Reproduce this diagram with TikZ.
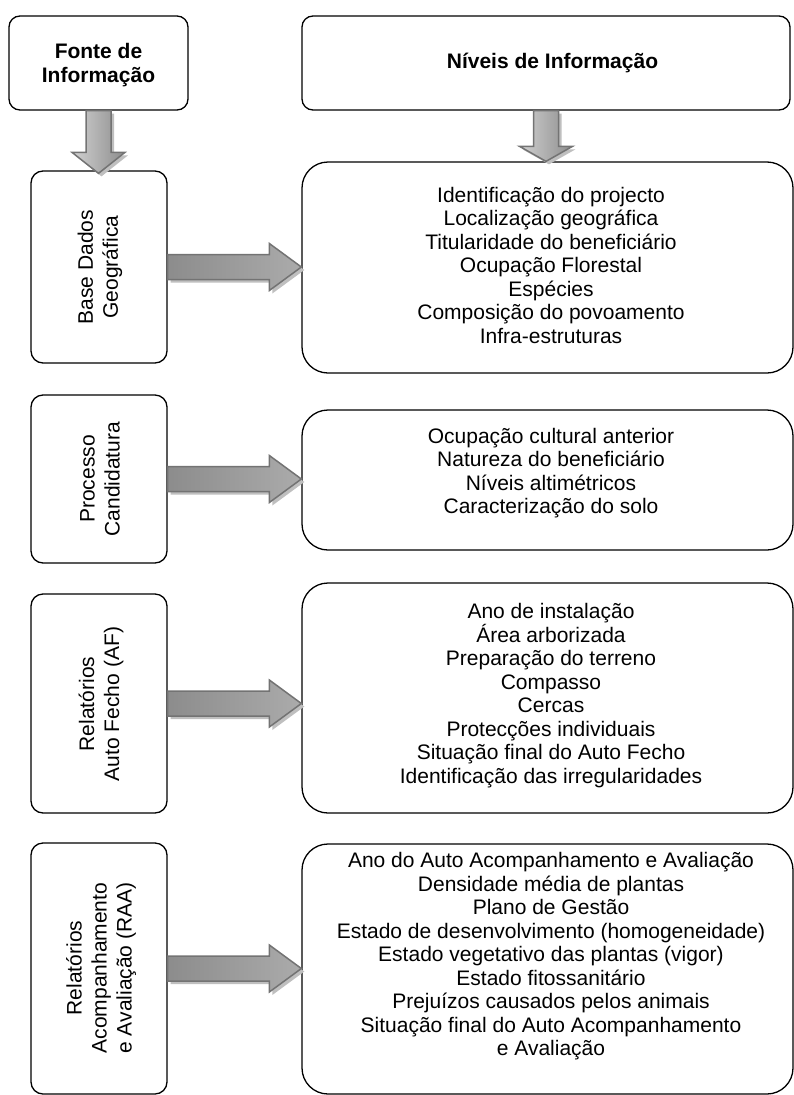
\documentclass[tikz,border=0pt]{standalone}
\usepackage{fontspec}
\setmainfont{Liberation Sans}
\usetikzlibrary{calc}
\tikzset{
  lbox/.style={draw=black, line width=1.3pt, rounded corners=12pt, minimum width=136pt, inner sep=0pt},
  rbox/.style={draw=black, line width=1.3pt, rounded corners=26pt, minimum width=491pt, inner sep=0pt},
  hbox/.style={draw=black, line width=1.3pt, rounded corners=11pt, minimum height=94pt, inner sep=0pt},
  txt/.style={align=center, inner sep=0pt, font=\fontsize{21}{23.5}\selectfont},
  rottxt/.style={align=center, inner sep=0pt, rotate=90, font=\fontsize{21}{25}\selectfont},
  headtxt/.style={align=center, inner sep=0pt, font=\fontsize{21}{24}\selectfont\bfseries},
  blockshadow/.style={preaction={fill=black!25, draw=none, transform canvas={shift={(3pt,-3pt)}}}},
  blockH/.style={blockshadow, draw=black!55, line width=1.5pt, line join=miter, left color=black!45, middle color=black!18, right color=black!33},
  blockV/.style={blockshadow, draw=black!55, line width=1.5pt, line join=miter, left color=black!18, right color=black!45},
}
% right block arrow from node #1 (east side) to node #2 (west side)
\newcommand{\blockRight}[2]{%
  \path[blockH] ($(#1.east)+(0,-12.5)$) -- ($(#1.east -| #2.west)+(-32,-12.5)$)
    -- ($(#1.east -| #2.west)+(-32,-23.5)$) -- (#1.east -| #2.west)
    -- ($(#1.east -| #2.west)+(-32,23.5)$) -- ($(#1.east -| #2.west)+(-32,12.5)$)
    -- ($(#1.east)+(0,12.5)$) -- cycle;}
% down block arrow from node #1 (south) to node #2 (north); #3 head length, #4 overlap
\newcommand{\blockDown}[4]{%
  \path[blockV] ($(#1.south)+(-12.5,0)$) -- ($(#1.south |- #2.north)+(-12.5,#4-#3)$)
    -- ($(#1.south |- #2.north)+(-26.5,#4-#3)$) -- ($(#1.south |- #2.north)+(0,#4)$)
    -- ($(#1.south |- #2.north)+(26.5,#4-#3)$) -- ($(#1.south |- #2.north)+(12.5,#4-#3)$)
    -- ($(#1.south)+(12.5,0)$) -- cycle;}
\begin{document}
\begin{tikzpicture}[x=1pt, y=-1pt]
\useasboundingbox (0,0) rectangle (794,1095);

% header boxes
\node[hbox, minimum width=179pt] (fonte) at (98.5,63) {};
\node[hbox, minimum width=488pt] (niveis) at (546,63) {};
\node[headtxt] (fontetxt) at (98.5,65) {Fonte de\\Informação};
\node[headtxt] (niveistxt) at (552.5,63) {Níveis de Informação};

% left boxes
\node[lbox, minimum height=192pt] (bdg) at (99,267) {};
\node[lbox, minimum height=168pt] (proc) at (99,479) {};
\node[lbox, minimum height=219pt] (raf) at (99,703.5) {};
\node[lbox, minimum height=251pt] (raa) at (99,968.5) {};

\node[rottxt] (bdgtxt) at (100,267) {Base Dados\\Geográfica};
\node[rottxt] (proctxt) at (100,479) {Processo\\Candidatura};
\node[rottxt] (raftxt) at (101,704) {Relatórios\\Auto Fecho (AF)};
\node[rottxt] (raatxt) at (101,968) {Relatórios\\Acompanhamento\\e Avaliação (RAA)};

% right boxes
\node[rbox, minimum height=211pt] (r1) at (547.5,267.5) {};
\node[rbox, minimum height=140pt] (r2) at (547.5,480) {};
\node[rbox, minimum height=230pt] (r3) at (547.5,698) {};
\node[rbox, minimum height=250pt] (r4) at (547.5,969) {};

\node[txt] (r1txt) at (551,265) {Identificação do projecto\\Localização geográfica\\Titularidade do beneficiário\\Ocupação Florestal\\Espécies\\Composição do povoamento\\Infra-estruturas};
\node[txt] (r2txt) at (551,473) {Ocupação cultural anterior\\Natureza do beneficiário\\Níveis altimétricos\\Caracterização do solo};
\node[txt] (r3txt) at (551,695.5) {Ano de instalação\\Área arborizada\\Preparação do terreno\\Compasso\\Cercas\\Protecções individuais\\Situação final do Auto Fecho\\Identificação das irregularidades};
\node[txt] (r4txt) at (551,956.5) {Ano do Auto Acompanhamento e Avaliação\\Densidade média de plantas\\Plano de Gestão\\Estado de desenvolvimento (homogeneidade)\\Estado vegetativo das plantas (vigor)\\Estado fitossanitário\\Prejuízos causados pelos animais\\Situação final do Auto Acompanhamento\\e Avaliação};

% block arrows
\blockDown{fonte}{bdg}{21}{3}
\blockDown{niveis}{r1}{15}{0}
\blockRight{bdg}{r1}
\blockRight{proc}{r2}
\blockRight{raf}{r3}
\blockRight{raa}{r4}
\end{tikzpicture}
\end{document}
